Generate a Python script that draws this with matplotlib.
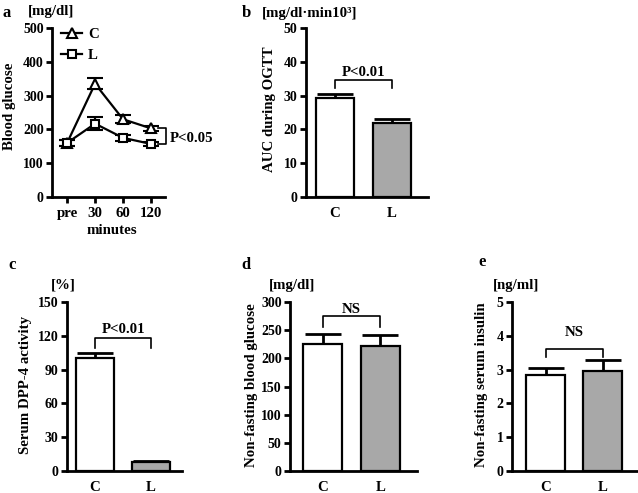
import numpy as np
import matplotlib
matplotlib.use('Agg')
import matplotlib.pyplot as plt
from matplotlib.lines import Line2D

plt.rcParams['font.family'] = ['Liberation Serif', 'DejaVu Serif']
plt.rcParams['font.weight'] = 'bold'
plt.rcParams['axes.labelweight'] = 'bold'

W, H = 638, 493

# panel a: OGTT time course
times = ['pre', '30', '60', '120']
c_glu = [160, 335, 230, 203]
c_glu_err = [10, 16, 12, 8]
l_glu = [160, 217, 175, 157]
l_glu_err = [8, 20, 8, 5]

# bar panels
groups = ['C', 'L']
auc = [29.3, 22.0]
auc_err = [1.2, 1.2]
dpp4 = [100, 8]
dpp4_err = [5, 0.5]
nf_glu = [226, 222]
nf_glu_err = [18, 20]
insulin = [2.85, 2.97]
insulin_err = [0.2, 0.3]

GRAY = '#a8a8a8'
FS = 10.7
TFS = 10


def px_axes(x0, x1, y0, y1):
    # pixel box -> figure fraction rect
    return [x0 / W, 1 - y1 / H, (x1 - x0) / W, (y1 - y0) / H]


def ftext(x, y, s, **kw):
    fig.text(x / W, 1 - y / H, s, ha=kw.pop('ha', 'center'), va=kw.pop('va', 'center'),
             fontsize=kw.pop('fontsize', FS), fontweight='bold', **kw)


def style(ax):
    for s in ['top', 'right']:
        ax.spines[s].set_visible(False)
    for s in ['left', 'bottom']:
        ax.spines[s].set_linewidth(2)
    ax.tick_params(axis='y', direction='out', length=4, width=2, labelsize=TFS, pad=2)
    ax.tick_params(axis='x', direction='out', length=4, width=2, labelsize=FS, pad=3)
    for t in ax.get_xticklabels() + ax.get_yticklabels():
        t.set_fontweight('bold')


def bar_panel(ax, vals, errs, ymax, step, xlim, brk, txt, txt_y):
    x = np.arange(len(groups))
    ax.bar(x, vals, width=0.68, color=['white', GRAY], edgecolor='black', linewidth=1.6, zorder=2)
    ax.errorbar(x, vals, yerr=[[0] * len(errs), errs], fmt='none', ecolor='black',
                elinewidth=2, capsize=13, capthick=2, zorder=1)
    ax.set_xlim(*xlim)
    ax.set_ylim(0, ymax)
    ax.set_yticks(np.arange(0, ymax + step / 2, step))
    ax.set_xticks(x)
    ax.set_xticklabels(groups)
    style(ax)
    ax.tick_params(axis='x', length=0, pad=7)
    top, drop = brk
    ax.plot([0, 0, 1, 1], [drop, top, top, drop], color='black', lw=1.2)
    ax.text(0.5, txt_y, txt, ha='center', va='center', fontsize=FS, fontweight='bold')


fig = plt.figure(figsize=(W / 100, H / 100), dpi=100)

# ---- a ----
ax = fig.add_axes(px_axes(52, 165, 28, 197))
xi = np.arange(len(times))
ax.errorbar(xi, c_glu, yerr=c_glu_err, color='black', lw=1.6, marker='^', ms=7,
            mfc='white', mec='black', mew=1.5, capsize=6, capthick=1.5, zorder=3)
ax.errorbar(xi, l_glu, yerr=l_glu_err, color='black', lw=1.6, marker='s', ms=6,
            mfc='white', mec='black', mew=1.5, capsize=6, capthick=1.5, zorder=3)
ax.set_xlim(-0.54, 3.5)
ax.set_ylim(0, 500)
ax.set_yticks(np.arange(0, 501, 100))
ax.set_xticks(xi)
ax.set_xticklabels(times)
style(ax)
handles = [Line2D([], [], color='black', lw=1.6, marker='^', ms=7, mfc='white', mew=1.5),
           Line2D([], [], color='black', lw=1.6, marker='s', ms=6, mfc='white', mew=1.5)]
ax.legend(handles, ['C', 'L'], loc='upper left', bbox_to_anchor=(0.03, 1.035), frameon=False,
          fontsize=FS, handlelength=1.4, handletextpad=0.4, labelspacing=0.5, borderaxespad=0)
ax.plot([3.26, 3.54, 3.54, 3.26], [203, 203, 157, 157], color='black', lw=1.2, clip_on=False)
ax.text(3.66, 172, 'P<0.05', ha='left', va='center', fontsize=FS, fontweight='bold')
ftext(10, 106, 'Blood glucose', rotation=90)
ftext(112, 230, 'minutes')
ftext(7, 13, 'a', fontsize=12)
ftext(51, 12, '[mg/dl]')

# ---- b ----
ax = fig.add_axes(px_axes(306, 428, 28, 197))
bar_panel(ax, auc, auc_err, 50, 10, (-0.51, 1.63), (34.6, 32.2), 'P<0.01', 36.8)
ftext(270, 109, 'AUC during OGTT', rotation=90)
ftext(246, 13, 'b', fontsize=12)
ftext(262, 14, '[mg/dl·min10³]', ha='left')

# ---- c ----
ax = fig.add_axes(px_axes(67, 182, 302, 471))
bar_panel(ax, dpp4, dpp4_err, 150, 30, (-0.5, 1.55), (118, 109), 'P<0.01', 125.5)
ftext(25, 385, 'Serum DPP-4 activity', rotation=90)
ftext(12, 265, 'c', fontsize=12)
ftext(63, 285, '[%]')

# ---- d ----
ax = fig.add_axes(px_axes(290, 417, 302, 471))
bar_panel(ax, nf_glu, nf_glu_err, 300, 50, (-0.57, 1.635), (275, 255), 'NS', 287)
ftext(252, 385, 'Non-fasting blood glucose', rotation=90)
ftext(246, 265, 'd', fontsize=12)
ftext(292, 285, '[mg/dl]')

# ---- e ----
ax = fig.add_axes(px_axes(512, 637, 302, 471))
bar_panel(ax, insulin, insulin_err, 5, 1, (-0.59, 1.605), (3.6, 3.37), 'NS', 4.1)
ftext(482, 385, 'Non-fasting serum insulin', rotation=90)
ftext(482, 262, 'e', fontsize=12)
ftext(516, 285, '[ng/ml]')

fig.savefig('out.png', dpi=100)
